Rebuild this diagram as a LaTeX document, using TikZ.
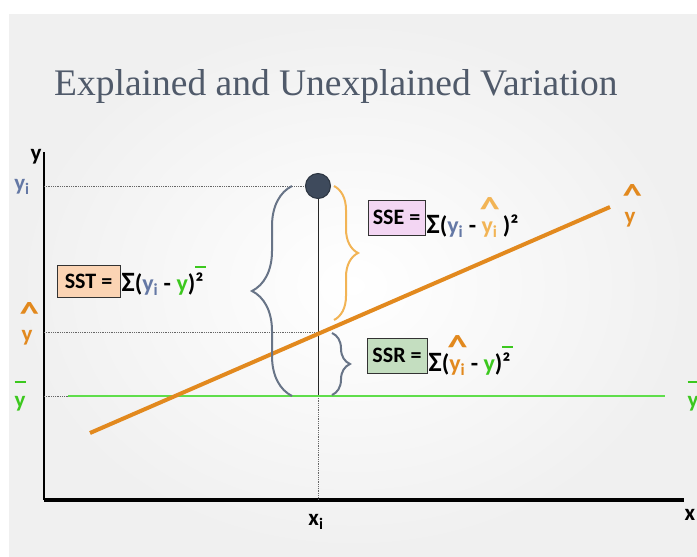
\documentclass[tikz,border=0pt]{standalone}
\usepackage{fontspec}
\setmainfont{Liberation Serif}
\newfontfamily\calib{Carlito}
\usepackage{xcolor}
\definecolor{ttlgray}{RGB}{80,90,106}
\definecolor{yblue}{RGB}{100,120,165}
\definecolor{ygreen}{RGB}{60,200,30}
\definecolor{lgreen}{RGB}{95,222,75}
\definecolor{yorange}{RGB}{226,137,30}
\definecolor{lorange}{RGB}{242,180,85}
\definecolor{bgray}{RGB}{104,116,135}
\definecolor{dotblue}{RGB}{62,74,92}
\definecolor{sstfill}{RGB}{251,212,180}
\definecolor{ssefill}{RGB}{243,214,243}
\definecolor{ssrfill}{RGB}{196,222,192}
\usetikzlibrary{positioning,decorations.pathreplacing}
% y with hat, y with bar
\newcommand{\hatmark}{\scalebox{1.7}[1.4]{\textasciicircum}}
\newcommand{\hy}{\rlap{\raisebox{0.55em}{\kern-0.08em\hatmark}}y}
\newcommand{\hyax}{\rlap{\raisebox{0.72em}{\kern-0.08em\hatmark}}y}
\newcommand{\by}{\rlap{\raisebox{1.05em}{\rule{0.5em}{0.07em}}}y}
\newcommand{\fbar}{\rlap{\raisebox{1.0em}{\color{ygreen}\rule{0.45em}{0.07em}}}}

\begin{document}
\begin{tikzpicture}[x=1pt, y=-1pt,
  lbl/.style={font=\calib\fontsize{23}{24}\selectfont\bfseries, inner sep=0pt},
  sbox/.style={draw=black!80, line width=1pt, inner sep=2pt, font=\calib\fontsize{22}{24}\selectfont\bfseries},
  frm/.style={anchor=west, inner sep=1pt, font=\calib\fontsize{24}{26}\selectfont\bfseries},
  gdot/.style={densely dotted, black!60, line width=0.8pt},
  brc/.style={decorate, decoration={brace, amplitude=#1}, line width=2pt}]
  \useasboundingbox (0,0) rectangle (697,557);
  \clip (0,0) rectangle (697,557);

  % Background
  \fill[white] (0,0) rectangle (697,557);
  \shade[inner color=white, outer color=black!6] (9,14) rectangle (697,557);

  % Title
  \node[font=\fontsize{37.5}{40}\selectfont, text=ttlgray, anchor=base west, inner sep=0pt] (title) at (54,95) {Explained and Unexplained Variation};

  % Axes
  \coordinate (ytop) at (44,152);
  \coordinate (orig) at (44,500);
  \coordinate (xend) at (684,500);
  \draw[line width=2pt] (ytop) -- (orig);
  \draw[line width=3.5pt] (orig) -- (xend);

  % Data point and guide lines
  \node[circle, fill=dotblue, draw=dotblue!70!black, line width=1pt, minimum size=25pt, inner sep=0pt] (pt) at (318,186) {};
  \coordinate (yhat) at (318,332);
  \coordinate (ymean) at (318,396);
  \coordinate (xi) at (318,500);
  \draw[gdot] (44,186) -- (pt.west);
  \draw[gdot] (44,332) -- (yhat);
  \draw[gdot] (44,396) -- (70,396);
  \draw[gdot] (ymean) -- (xi);
  \draw[black!85, line width=0.8pt] (pt.south) -- (ymean);

  % Mean line and regression line
  \draw[lgreen, line width=2.5pt] (68,396) -- (665,396);
  \draw[yorange, line width=4pt] (90,433) -- (610,207);

  % Braces
  \draw[bgray, brc=40pt] (292,396) -- (292,186);
  \draw[lorange, brc=24pt] (334,186) -- (334,320);
  \draw[bgray, brc=18pt] (332,333) -- (332,395);

  % Axis labels
  \node[lbl] (yax) at (36,157) {y};
  \node[lbl, text=yblue] (yil) at (22,187) {y\textsubscript{i}};
  \node[lbl, text=yorange] (yhl) at (27,324) {\hyax};
  \node[lbl, text=ygreen] (ybl) at (20,396) {\by};
  \node[lbl, text=yorange] (yhr) at (630,206) {\hyax};
  \node[lbl, text=ygreen] (ybr) at (693,396) {\by};
  \node[lbl] (xax) at (690,515) {x};
  \node[lbl] (xil) at (316,522) {x\textsubscript{i}};

  % SST
  \node[sbox, fill=sstfill, minimum width=63pt, minimum height=32pt] (sst) at (88.5,281) {SST =};
  \node[frm] (sstf) at (sst.east) {{\fontsize{28}{28}\selectfont Σ}({\color{yblue}y\textsubscript{i}} - {\color{ygreen}y})\fbar²};

  % SSE
  \node[sbox, fill=ssefill, minimum width=57pt, minimum height=35pt] (sse) at (396.5,217.5) {SSE =};
  \node[frm] (ssef) at (sse.east) {{\fontsize{28}{28}\selectfont Σ}({\color{yblue}y\textsubscript{i}} - {\color{lorange}\hy\textsubscript{i}} )²};

  % SSR
  \node[sbox, fill=ssrfill, minimum width=60pt, minimum height=35pt] (ssr) at (397,355.5) {SSR =};
  \node[frm] (ssrf) at (ssr.east) {{\fontsize{28}{28}\selectfont Σ}({\color{yorange}\hy\textsubscript{i}} - {\color{ygreen}y})\fbar²};
\end{tikzpicture}
\end{document}
